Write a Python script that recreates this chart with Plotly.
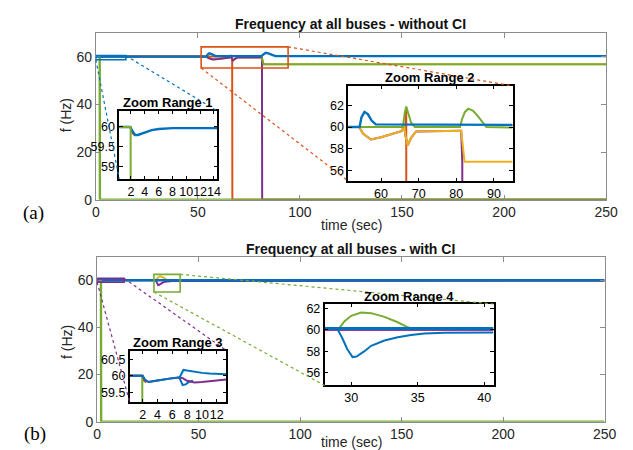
import plotly.graph_objects as go

W, H = 633, 450
BLUE = '#0072BD'; ORANGE = '#D95319'; YELLOW = '#EDB120'; PURPLE = '#7E2F8E'; GREEN = '#77AC30'
FONT = 'Liberation Sans, Arial, sans-serif'

# ---------------- data: (a) without CI, main axes ----------------
top_orange_t = [0, 66.8, 66.9, 250]
top_orange_f = [60, 60, 0, 0]
top_yellow_t = [0, 54.2, 55.2, 57.3, 60, 63, 65.6, 66.1, 66.5, 67.1, 68, 69.3, 81.3, 82.2, 250]
top_yellow_f = [60, 60, 59.4, 58.85, 59.05, 59.4, 59.65, 60.2, 59.2, 58.3, 59.0, 59.6, 59.65, 56.8, 56.8]
top_purple_t = [0, 54.2, 55.2, 57.3, 60, 63, 65.6, 66.1, 66.5, 67.1, 68, 69.3, 81.4, 81.5, 250]
top_purple_f = [60, 60, 59.4, 58.85, 59.05, 59.4, 59.65, 60.2, 59.2, 58.3, 59.0, 59.6, 59.65, 0, 0]
top_green_t = [0, 1.9, 2.0, 250]
top_green_f = [60, 60, 0, 0]
top_green2_t = [81.3, 82.2, 250]
top_green2_f = [59.65, 56.8, 56.8]
top_blue_t = [0, 54.3, 54.8, 55.6, 56.5, 57.5, 58.6, 81.0, 82.0, 83.2, 84.5, 86.0, 88.0, 250]
top_blue_f = [60, 60, 60.9, 61.4, 61.2, 60.6, 60.2, 60.2, 61.0, 61.6, 61.4, 60.8, 60.2, 60.2]

# Zoom Range 1 (inset)
in1_red_t = [0.3, 1.9, 2.2, 2.5]
in1_red_f = [60, 60, 59.85, 59.8]
in1_blue_t = [0.3, 1.9, 2.2, 2.6, 3.0, 4, 5, 6, 8, 10, 14.5]
in1_blue_f = [60, 60, 59.9, 59.8, 59.8, 59.86, 59.92, 59.95, 59.97, 59.97, 59.97]
in1_green_t = [0.3, 1.95, 2.0]
in1_green_f = [60, 60, 50]

# Zoom Range 2 (inset)
in2_purple_t = [51.3, 54.2, 55.2, 57.3, 60, 63, 65.6, 66.1, 66.5, 67.1, 68, 69.3, 81.3, 81.6, 81.65, 95]
in2_purple_f = [60, 60, 59.4, 58.85, 59.05, 59.4, 59.65, 60.2, 59.2, 58.3, 59.0, 59.6, 59.65, 56.8, 0, 0]
in2_orange_t = [51.3, 66.5, 66.7, 66.8, 95]
in2_orange_f = [60, 60, 61.8, 0, 0]
in2_yellow_t = [51.3, 54.2, 55.2, 57.3, 60, 63, 65.6, 66.1, 66.5, 67.1, 68, 69.3, 81.3, 82.2, 95]
in2_yellow_f = [60, 60, 59.4, 58.85, 59.05, 59.4, 59.65, 60.2, 59.2, 58.3, 59.0, 59.6, 59.65, 56.8, 56.8]
in2_green_t = [51.3, 65.8, 66.3, 66.7, 67.3, 68.0, 69.0, 81.0, 81.5, 82.3, 83.2, 84.5, 86, 88, 95]
in2_green_f = [60, 60, 61.3, 61.9, 61.2, 60.4, 60.0, 60.0, 60.7, 61.4, 61.7, 61.5, 60.9, 60.0, 59.95]
in2_blue_t = [51.3, 54.3, 54.8, 55.6, 56.5, 57.5, 58.6, 95]
in2_blue_f = [60.0, 60.0, 60.9, 61.4, 61.2, 60.6, 60.25, 60.2]

# ---------------- data: (b) with CI, main axes ----------------
bot_green_t = [0, 1.9, 2.0, 250]
bot_green_f = [60, 60, 0, 0]
bot_yellow_t = [0, 29, 29.5, 30, 30.75, 31.5, 32.5, 33.5, 34.3, 35, 250]
bot_yellow_f = [60, 60, 60.8, 61.3, 61.6, 61.55, 61.2, 60.7, 60.2, 60.05, 60]
bot_purple_t = [0, 28.95, 29.3, 29.7, 30.1, 30.4, 31, 31.5, 32.5, 33.5, 34.5, 35.5, 37, 250]
bot_purple_f = [60, 60, 59.3, 58.2, 57.9, 57.95, 58.3, 58.7, 59.1, 59.35, 59.5, 59.65, 59.72, 59.75]
bot_blue_t = [0, 250]
bot_blue_f = [60, 60]

# Zoom Range 3 (inset)
in3_red_t = [0.25, 1.9, 2.2, 2.5]
in3_red_f = [60, 60, 59.85, 59.8]
in3_green_t = [0.25, 1.95, 2.0]
in3_green_f = [60, 60, 55]
in3_blue2_t = [6.9, 7.1, 7.4, 7.8, 8.3, 8.8]
in3_blue2_f = [59.96, 59.85, 59.72, 59.74, 59.82, 59.85]
in3_purple_t = [0.25, 2, 2.3, 2.8, 4, 5, 6, 7, 7.4, 8, 9, 10, 11, 12, 13.3]
in3_purple_f = [60, 60, 59.88, 59.81, 59.86, 59.9, 59.93, 59.95, 59.93, 59.85, 59.8, 59.81, 59.84, 59.86, 59.89]
in3_blue_t = [0.25, 2, 2.3, 2.8, 4, 5, 6, 7, 7.2, 7.5, 8, 9, 10, 11, 12, 13.3]
in3_blue_f = [60, 60, 59.88, 59.81, 59.86, 59.9, 59.93, 59.96, 60.05, 60.18, 60.16, 60.12, 60.09, 60.07, 60.06, 60.05]

# Zoom Range 4 (inset)
in4_green_t = [28, 29.05, 29.5, 30, 30.75, 31.5, 32.5, 33.5, 34.3, 35, 40.7]
in4_green_f = [60.05, 60.05, 60.8, 61.3, 61.6, 61.55, 61.2, 60.7, 60.2, 60.05, 60.0]
in4_purple_t = [28, 40.7]
in4_purple_f = [59.95, 59.95]
in4_blue_dip_t = [28, 28.95, 29.3, 29.7, 30.1, 30.4, 31, 31.5, 32.5, 33.5, 34.5, 35.5, 37, 40.7]
in4_blue_dip_f = [60.1, 60.1, 59.3, 58.2, 57.45, 57.5, 58.0, 58.5, 59.0, 59.3, 59.5, 59.65, 59.72, 59.75]
in4_blue_flat_t = [28, 40.7]
in4_blue_flat_f = [60.12, 60.12]

# zoom boxes drawn in the main axes  ([x0, x1], [y0, y1])
zoom1_x, zoom1_y = [0, 14.7], [58.7, 60.4]
zoom2_x, zoom2_y = [51.6, 94.2], [55.2, 64.1]
zoom3_x, zoom3_y = [0, 13.3], [59.2, 60.8]
zoom4_x, zoom4_y = [28, 40.9], [55.0, 62.5]

# axis ranges and ticks
main_x_range, main_y_range = [0, 250], [0, 70]
main_x_ticks, main_y_ticks = [0, 50, 100, 150, 200, 250], [0, 20, 40, 60]
in1_x_range, in1_y_range = [0.3, 14.5], [58.7, 60.4]
in1_x_ticks, in1_y_ticks = [2, 4, 6, 8, 10, 12, 14], [59, 59.5, 60]
in2_x_range, in2_y_range = [51.3, 95], [55, 63.8]
in2_x_ticks, in2_y_ticks = [60, 70, 80, 90], [56, 58, 60, 62]
in3_x_range, in3_y_range = [0.25, 13.3], [59.2, 60.77]
in3_x_ticks, in3_y_ticks = [2, 4, 6, 8, 10, 12], [59.5, 60, 60.5]
in4_x_range, in4_y_range = [28, 40.7], [54.8, 62.4]
in4_x_ticks, in4_y_ticks = [30, 35, 40], [56, 58, 60, 62]

# ---------------- layout geometry (pixels -> paper) ----------------
def dx(a, b):
    return [a / W, b / W]

def dy(top, bottom):
    return [1 - bottom / H, 1 - top / H]

DOM = {
    1: (dx(86, 609.5), dy(23.3, 194)),
    2: (dx(87.3, 608), dy(252.3, 421)),
    3: (dx(110, 210.7), dy(103.3, 172.7)),
    4: (dx(345, 513.7), dy(77.7, 175)),
    5: (dx(120.7, 220), dy(348.3, 401)),
    6: (dx(320.7, 494), dy(300.7, 384)),
}
RNG = {
    1: (main_x_range, main_y_range), 2: (main_x_range, main_y_range),
    3: (in1_x_range, in1_y_range), 4: (in2_x_range, in2_y_range),
    5: (in3_x_range, in3_y_range), 6: (in4_x_range, in4_y_range),
}
TICKS = {
    1: (main_x_ticks, main_y_ticks), 2: (main_x_ticks, main_y_ticks),
    3: (in1_x_ticks, in1_y_ticks), 4: (in2_x_ticks, in2_y_ticks),
    5: (in3_x_ticks, in3_y_ticks), 6: (in4_x_ticks, in4_y_ticks),
}

def d2p(k, xv, yv):
    (xd, yd), (xr, yr) = DOM[k], RNG[k]
    return (xd[0] + (xv - xr[0]) / (xr[1] - xr[0]) * (xd[1] - xd[0]),
            yd[0] + (yv - yr[0]) / (yr[1] - yr[0]) * (yd[1] - yd[0]))

fig = go.Figure()

def add(k, t, f, color, width=2.0):
    sx = 'x' if k == 1 else 'x%d' % k
    sy = 'y' if k == 1 else 'y%d' % k
    fig.add_trace(go.Scatter(x=t, y=f, mode='lines', line=dict(color=color, width=width),
                             xaxis=sx, yaxis=sy, showlegend=False, hoverinfo='skip'))

# (a) main
add(1, top_orange_t, top_orange_f, ORANGE)
add(1, top_yellow_t, top_yellow_f, YELLOW)
add(1, top_purple_t, top_purple_f, PURPLE)
add(1, top_green_t, top_green_f, GREEN, 2.4)
add(1, top_green2_t, top_green2_f, GREEN)
add(1, top_blue_t, top_blue_f, BLUE, 2.4)
# (b) main
add(2, bot_green_t, bot_green_f, GREEN, 2.4)
add(2, bot_yellow_t, bot_yellow_f, YELLOW)
add(2, bot_purple_t, bot_purple_f, PURPLE)
add(2, bot_blue_t, bot_blue_f, BLUE, 2.6)
# inset 1
add(3, in1_red_t, in1_red_f, ORANGE)
add(3, in1_blue_t, in1_blue_f, BLUE, 2.4)
add(3, in1_green_t, in1_green_f, GREEN)
# inset 2
add(4, in2_purple_t, in2_purple_f, PURPLE)
add(4, in2_orange_t, in2_orange_f, ORANGE)
add(4, in2_yellow_t, in2_yellow_f, YELLOW)
add(4, in2_green_t, in2_green_f, GREEN)
add(4, in2_blue_t, in2_blue_f, BLUE, 2.4)
# inset 3
add(5, in3_red_t, in3_red_f, ORANGE)
add(5, in3_green_t, in3_green_f, GREEN)
add(5, in3_blue2_t, in3_blue2_f, BLUE)
add(5, in3_purple_t, in3_purple_f, PURPLE)
add(5, in3_blue_t, in3_blue_f, BLUE)
# inset 4
add(6, in4_green_t, in4_green_f, GREEN)
add(6, in4_purple_t, in4_purple_f, '#A63495', 1.3)
add(6, in4_blue_dip_t, in4_blue_dip_f, BLUE)
add(6, in4_blue_flat_t, in4_blue_flat_f, BLUE, 3)

# axes
layout = {}
for k in range(1, 7):
    main = k <= 2
    xd, yd = DOM[k]
    xr, yr = RNG[k]
    xt, yt = TICKS[k]
    xname = 'xaxis' if k == 1 else 'xaxis%d' % k
    yname = 'yaxis' if k == 1 else 'yaxis%d' % k
    anc_x = 'x' if k == 1 else 'x%d' % k
    anc_y = 'y' if k == 1 else 'y%d' % k
    lc = '#8C8C8C' if main else '#000000'
    lw = 1 if main else 1.6
    fnt = dict(family=FONT, size=14 if main else 12.5, color='#262626' if main else '#000000')
    common = dict(showline=True, linecolor=lc, linewidth=lw, mirror='ticks', ticks='inside',
                  ticklen=5 if main else 3.5, tickcolor=lc, tickwidth=1, showgrid=False,
                  zeroline=False, tickfont=fnt, fixedrange=True, tickangle=0)
    layout[xname] = dict(domain=xd, range=xr, tickvals=xt, anchor=anc_y, **common)
    layout[yname] = dict(domain=yd, range=yr, tickvals=yt, anchor=anc_x, **common)

shapes = []
def box(k, xs, ys, color):
    sx = 'x' if k == 1 else 'x%d' % k
    sy = 'y' if k == 1 else 'y%d' % k
    shapes.append(dict(type='rect', xref=sx, yref=sy, x0=xs[0], x1=xs[1], y0=ys[0], y1=ys[1],
                       line=dict(color=color, width=1.6), layer='above'))

def link(kmain, kin, xs, ys, color):
    (ixd, iyd) = DOM[kin]
    p0 = d2p(kmain, xs[0], ys[0])
    p1 = d2p(kmain, xs[1], ys[1])
    shapes.append(dict(type='line', xref='paper', yref='paper', x0=p0[0], y0=p0[1],
                       x1=ixd[0], y1=iyd[0], line=dict(color=color, width=1.2, dash='dot'), layer='above'))
    shapes.append(dict(type='line', xref='paper', yref='paper', x0=p1[0], y0=p1[1],
                       x1=ixd[1], y1=iyd[1], line=dict(color=color, width=1.2, dash='dot'), layer='above'))

box(1, zoom1_x, zoom1_y, BLUE)
box(1, zoom2_x, zoom2_y, ORANGE)
box(2, zoom3_x, zoom3_y, PURPLE)
box(2, zoom4_x, zoom4_y, GREEN)
link(1, 3, zoom1_x, zoom1_y, BLUE)
link(1, 4, zoom2_x, zoom2_y, ORANGE)
link(2, 5, zoom3_x, zoom3_y, PURPLE)
link(2, 6, zoom4_x, zoom4_y, GREEN)

def ann(text, px, py, size, bold=False, angle=0, family=FONT, color='#262626'):
    return dict(text=('<b>%s</b>' % text) if bold else text, x=px / W, y=1 - py / H,
                xref='paper', yref='paper', showarrow=False, xanchor='center', yanchor='middle',
                textangle=angle, font=dict(family=family, size=size, color=color))

annotations = [
    ann('Frequency at all buses - without CI', 347.7, 14, 14, bold=True, color='#111111'),
    ann('Frequency at all buses - with CI', 347.7, 244, 14, bold=True, color='#111111'),
    ann('time (sec)', 348, 220, 14),
    ann('time (sec)', 348, 442, 14),
    ann('f (Hz)', 55, 108, 14, angle=-90),
    ann('f (Hz)', 57, 340, 14, angle=-90),
    ann('Zoom Range 1', 160.3, 95, 13, bold=True, color='#000000'),
    ann('Zoom Range 2', 429.3, 69.5, 13, bold=True, color='#000000'),
    ann('Zoom Range 3', 170.3, 340, 13, bold=True, color='#000000'),
    ann('Zoom Range 4', 407.3, 293, 13, bold=True, color='#000000'),
    ann('(a)', 22, 208, 19, family='Liberation Serif, Times New Roman, serif', color='#000000'),
    ann('(b)', 24, 434, 19, family='Liberation Serif, Times New Roman, serif', color='#000000'),
]

fig.update_layout(width=W, height=H, margin=dict(l=0, r=0, t=0, b=0),
                  paper_bgcolor='white', plot_bgcolor='white',
                  shapes=shapes, annotations=annotations, **layout)

fig.write_html('out.html')
